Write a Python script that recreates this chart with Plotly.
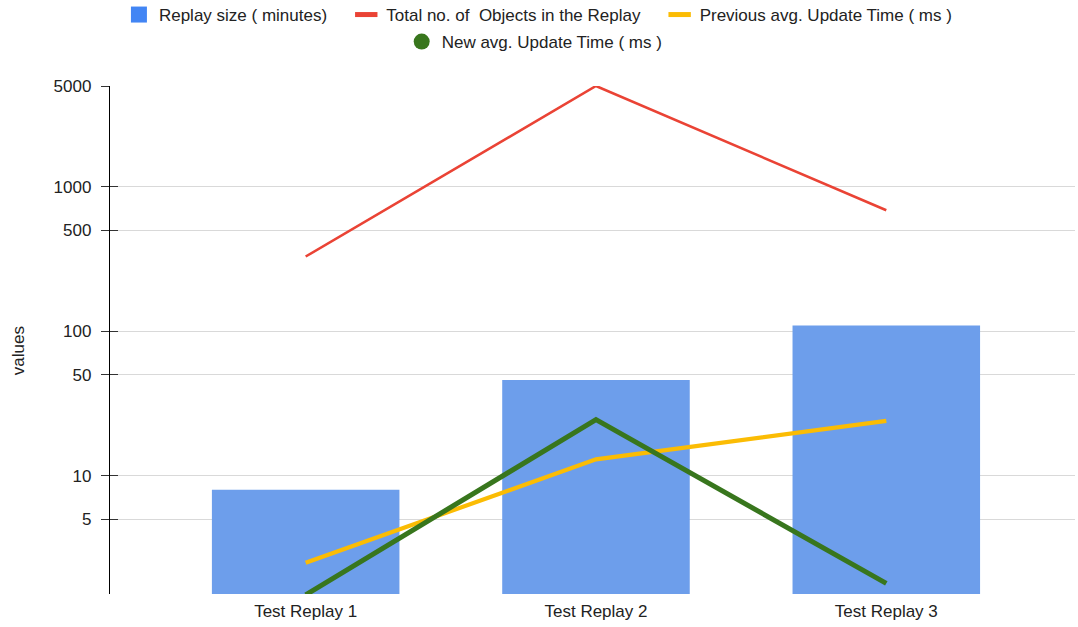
import plotly.graph_objects as go
import math

categories = ["Test Replay 1", "Test Replay 2", "Test Replay 3"]
replay_size = [8, 46, 110]
total_objects = [330, 5000, 690]
prev_update = [2.5, 13, 24]
new_update = [1.5, 24.5, 1.8]
tick_vals = [5, 10, 50, 100, 500, 1000, 5000]
tick_text = ["5", "10", "50", "100", "500", "1000", "5000"]

FONT = "Arial, Liberation Sans, sans-serif"
FS = 17
TXT = "#222222"
BLUE_LEG = "#4285f4"
BLUE_BAR = "#6d9eeb"
RED = "#ea4335"
YELLOW = "#fbbc04"
GREEN = "#38761d"
PAD = "\u00a0\u00a0\u00a0"

fig = go.Figure()
fig.add_trace(go.Bar(x=categories, y=replay_size, marker=dict(color=BLUE_BAR, line=dict(width=0)),
                     width=0.646, name="Replay size ( minutes)", showlegend=False))
fig.add_trace(go.Scatter(x=categories, y=total_objects, mode="lines", line=dict(color=RED, width=2.6),
                         name="Total no. of  Objects in the Replay", showlegend=False))
fig.add_trace(go.Scatter(x=categories, y=prev_update, mode="lines", line=dict(color=YELLOW, width=4.2),
                         name="Previous avg. Update Time ( ms )", showlegend=False))
fig.add_trace(go.Scatter(x=categories, y=new_update, mode="lines", line=dict(color=GREEN, width=5),
                         name="New avg. Update Time ( ms )", showlegend=False))

# legend entries
fig.add_trace(go.Scatter(x=[None], y=[None], mode="markers", name="Replay size ( minutes)" + PAD,
                         marker=dict(symbol="square", size=17, color=BLUE_LEG), legend="legend"))
fig.add_trace(go.Scatter(x=[None], y=[None], mode="markers", name="Total no. of  Objects in the Replay" + PAD,
                         marker=dict(symbol="line-ew", size=16, line=dict(color=RED, width=5)), legend="legend"))
fig.add_trace(go.Scatter(x=[None], y=[None], mode="markers", name="Previous avg. Update Time ( ms )",
                         marker=dict(symbol="line-ew", size=16, line=dict(color=YELLOW, width=5)), legend="legend"))
fig.add_trace(go.Scatter(x=[None], y=[None], mode="markers", name="New avg. Update Time ( ms )",
                         marker=dict(symbol="circle", size=16, color=GREEN), legend="legend2"))

# overlay axis for inner tick halves
fig.add_trace(go.Scatter(x=[None], y=[None], yaxis="y2", showlegend=False, hoverinfo="skip"))

yr = [math.log10(1.52), math.log10(5000)]
fig.update_layout(
    width=1078, height=627,
    margin=dict(l=110, r=3, t=86, b=33, autoexpand=False),
    paper_bgcolor="white", plot_bgcolor="white",
    font=dict(family=FONT, size=FS, color=TXT),
    xaxis=dict(type="category", range=[-0.674, 2.65], showline=False, showgrid=False,
               ticks="", ticklabelstandoff=5, tickfont=dict(size=FS, color=TXT)),
    yaxis=dict(type="log", range=yr, tickvals=tick_vals, ticktext=tick_text,
               showline=True, linecolor="black", linewidth=1.3,
               ticks="outside", ticklen=8, tickcolor="#333333", tickwidth=1.3,
               ticklabelstandoff=6,
               showgrid=True, gridcolor="#d9d9d9", gridwidth=1, zeroline=False,
               tickfont=dict(size=FS, color=TXT)),
    yaxis2=dict(type="log", range=yr, overlaying="y", side="left", tickvals=tick_vals,
                showticklabels=False, showgrid=False, showline=False, zeroline=False,
                ticks="inside", ticklen=8, tickcolor="#333333", tickwidth=1.3),
    legend=dict(orientation="h", x=0.499, xref="container", xanchor="center", y=1 - 15 / 627,
                yref="container", yanchor="middle", font=dict(size=FS, color=TXT), itemwidth=30,
                bgcolor="rgba(0,0,0,0)"),
    legend2=dict(orientation="h", x=0.496, xref="container", xanchor="center", y=1 - 42 / 627,
                 yref="container", yanchor="middle", font=dict(size=FS, color=TXT), itemwidth=30,
                 bgcolor="rgba(0,0,0,0)"),
    showlegend=True,
    annotations=[dict(text="values", textangle=-90, xref="paper", yref="paper", x=-0.0953, y=0.478,
                      xanchor="center", yanchor="middle", showarrow=False,
                      font=dict(size=FS, color=TXT))],
)

fig.write_html("out.html", config={"displayModeBar": False},
               post_script="document.body.style.margin='0';document.body.style.padding='0';")
